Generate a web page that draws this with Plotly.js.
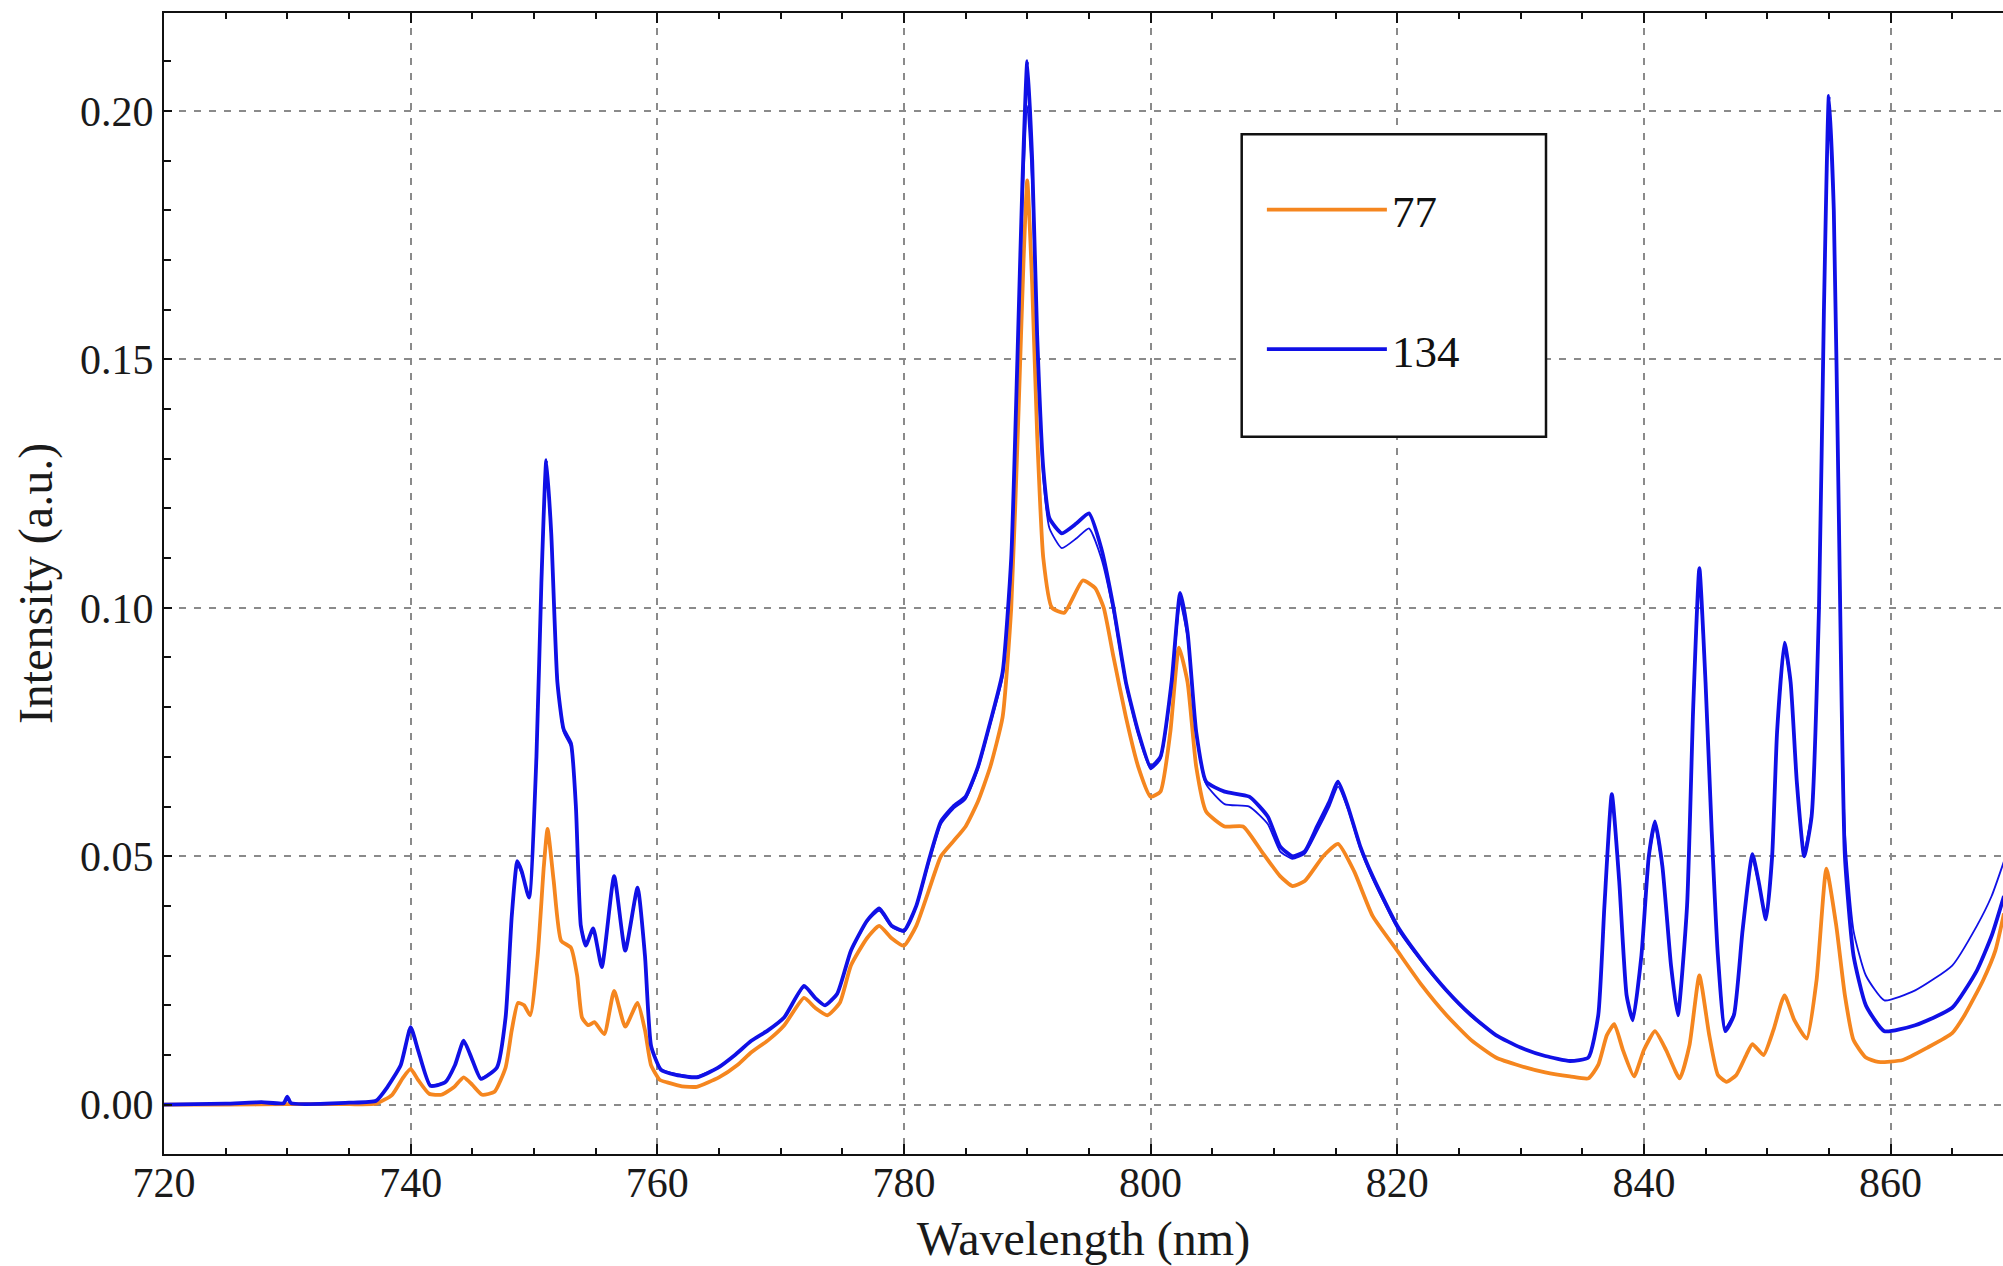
<!DOCTYPE html>
<html>
<head>
<meta charset="utf-8">
<script src="https://cdn.plot.ly/plotly-3.0.1.min.js"></script>
<style>html,body{margin:0;padding:0;background:#fff;}#chart{width:2003px;height:1266px;}</style>
</head>
<body>
<div id="chart"></div>
<script>
// ---- Data ----
const seriesNames = ["77", "134"];

const wl77 = [720,725,730,735,737.2,738.5,739.4,740.0,740.6,741.5,742.5,743.5,744.3,745.0,745.8,746.8,747.7,748.2,748.7,749.2,749.7,750.3,750.8,751.1,751.6,752.2,753.0,753.5,753.9,754.4,754.9,755.7,756.5,757.4,758.4,759.0,759.5,760.2,760.8,762.0,763.2,765.0,766.5,767.6,769.0,770.3,771.9,772.8,773.8,774.8,775.7,777.0,778.0,779.0,780.0,781.0,782.0,783.0,784.0,785.0,786.0,787.0,788.0,788.7,789.3,789.7,790.0,790.4,790.8,791.3,792.0,793.0,794.5,795.5,796.2,797.0,798.0,799.0,800.0,800.8,801.6,802.3,803.0,803.7,804.5,806.0,807.5,809.0,810.5,811.5,812.5,814.0,815.2,816.5,818.0,820.0,822.0,824.0,826.0,828.0,830.0,832.0,834.0,835.5,836.3,837.0,837.6,838.3,839.2,840.0,840.9,841.8,842.9,843.7,844.5,845.3,846.0,846.7,847.5,848.3,848.8,849.7,850.5,851.4,852.2,853.2,854.0,854.8,855.6,856.3,857.0,858.0,859.0,861.0,863.0,865.0,866.0,867.5,868.5,869.2];
const int77 = [0.0000,0.0000,0.0001,0.0001,0.0002,0.0020,0.0055,0.0072,0.0050,0.0022,0.0020,0.0035,0.0055,0.0040,0.0020,0.0026,0.0075,0.0150,0.0205,0.0200,0.0180,0.0300,0.0480,0.0555,0.0450,0.0330,0.0316,0.0260,0.0175,0.0160,0.0166,0.0142,0.0229,0.0157,0.0205,0.0150,0.0079,0.0050,0.0045,0.0037,0.0036,0.0055,0.0080,0.0105,0.0130,0.0160,0.0215,0.0195,0.0180,0.0205,0.0280,0.0335,0.0360,0.0335,0.0320,0.0360,0.0430,0.0500,0.0530,0.0560,0.0610,0.0680,0.0780,0.1000,0.1400,0.1700,0.1860,0.1650,0.1350,0.1100,0.1000,0.0990,0.1055,0.1040,0.1000,0.0900,0.0780,0.0680,0.0620,0.0630,0.0750,0.0920,0.0850,0.0680,0.0590,0.0560,0.0560,0.0510,0.0460,0.0440,0.0450,0.0500,0.0525,0.0470,0.0380,0.0310,0.0240,0.0180,0.0130,0.0095,0.0078,0.0065,0.0057,0.0053,0.0080,0.0140,0.0162,0.0110,0.0057,0.0110,0.0148,0.0110,0.0053,0.0120,0.0260,0.0140,0.0060,0.0046,0.0060,0.0100,0.0122,0.0100,0.0150,0.0220,0.0170,0.0133,0.0250,0.0475,0.0360,0.0220,0.0130,0.0095,0.0086,0.0090,0.0115,0.0144,0.0180,0.0250,0.0310,0.0385];

const wl134 = [720,725,727.9,729.7,730.0,730.3,735,737.2,738.1,739.2,740.0,740.6,741.6,742.8,743.6,744.3,745.0,745.7,747.0,747.7,748.2,748.65,749.0,749.6,750.2,750.6,751.0,751.4,751.9,752.4,753.0,753.4,753.8,754.2,754.8,755.5,756.5,757.4,758.4,759.0,759.5,760.3,761.5,763.2,764.9,766.3,767.6,769.0,770.3,771.9,772.8,773.6,774.6,775.7,777.0,778.0,779.0,780.0,781.0,782.0,783.0,784.0,785.0,786.0,787.0,788.0,788.7,789.2,789.6,790.0,790.4,790.8,791.3,791.8,792.8,794.0,795.0,796.0,797.0,798.0,799.0,800.0,800.8,801.7,802.4,803.0,803.7,804.5,806.0,808.0,809.5,810.5,811.5,812.5,813.5,814.5,815.2,816.0,817.0,818.0,820.0,822.0,824.0,826.0,828.0,830.0,832.0,834.0,835.5,836.3,836.8,837.4,838.0,838.6,839.1,839.8,840.4,840.9,841.5,842.2,842.75,843.5,844.0,844.5,845.0,845.5,846.0,846.6,847.3,848.0,848.8,849.3,849.9,850.4,850.8,851.4,851.9,852.4,853.0,853.6,854.2,854.6,855.0,855.4,855.8,856.3,857.0,858.0,859.5,862.0,865.0,867.0,868.2,869.2];
const int134a = [0.0000,0.0002,0.0005,0.0003,0.0016,0.0003,0.0004,0.0008,0.0035,0.0080,0.0156,0.0110,0.0038,0.0045,0.0080,0.0129,0.0090,0.0052,0.0075,0.0176,0.0380,0.0490,0.0470,0.0417,0.0700,0.1050,0.1297,0.1150,0.0850,0.0756,0.0727,0.0600,0.0360,0.0320,0.0355,0.0277,0.0460,0.0310,0.0437,0.0300,0.0118,0.0070,0.0060,0.0055,0.0074,0.0100,0.0128,0.0150,0.0176,0.0239,0.0215,0.0200,0.0224,0.0310,0.0370,0.0395,0.0360,0.0350,0.0400,0.0490,0.0570,0.0600,0.0620,0.0680,0.0770,0.0870,0.1100,0.1500,0.1850,0.2100,0.1900,0.1550,0.1280,0.1180,0.1150,0.1170,0.1190,0.1120,0.1000,0.0850,0.0750,0.0680,0.0700,0.0850,0.1030,0.0950,0.0750,0.0650,0.0630,0.0620,0.0580,0.0520,0.0500,0.0510,0.0560,0.0610,0.0650,0.0600,0.0520,0.0460,0.0360,0.0290,0.0230,0.0180,0.0140,0.0115,0.0098,0.0088,0.0095,0.0180,0.0400,0.0625,0.0450,0.0220,0.0170,0.0300,0.0500,0.0570,0.0480,0.0280,0.0180,0.0400,0.0800,0.1080,0.0850,0.0550,0.0300,0.0148,0.0180,0.0350,0.0504,0.0450,0.0373,0.0500,0.0750,0.0930,0.0850,0.0650,0.0500,0.0580,0.1000,0.1600,0.2030,0.1800,0.1200,0.0500,0.0300,0.0200,0.0148,0.0160,0.0195,0.0270,0.0340,0.0420];
const int134b = [0.0000,0.0002,0.0005,0.0003,0.0012,0.0003,0.0004,0.0008,0.0035,0.0080,0.0152,0.0108,0.0040,0.0046,0.0080,0.0126,0.0090,0.0054,0.0076,0.0176,0.0375,0.0482,0.0465,0.0420,0.0690,0.1040,0.1280,0.1140,0.0860,0.0750,0.0720,0.0600,0.0365,0.0325,0.0350,0.0280,0.0455,0.0312,0.0430,0.0300,0.0120,0.0072,0.0062,0.0057,0.0075,0.0100,0.0128,0.0150,0.0176,0.0236,0.0215,0.0200,0.0222,0.0308,0.0368,0.0390,0.0358,0.0348,0.0398,0.0485,0.0565,0.0595,0.0615,0.0675,0.0765,0.0860,0.1080,0.1480,0.1800,0.2010,0.1850,0.1520,0.1260,0.1160,0.1120,0.1140,0.1160,0.1100,0.0990,0.0845,0.0745,0.0675,0.0695,0.0840,0.1010,0.0940,0.0745,0.0645,0.0605,0.0600,0.0565,0.0510,0.0495,0.0505,0.0550,0.0600,0.0640,0.0595,0.0515,0.0455,0.0355,0.0287,0.0228,0.0178,0.0140,0.0115,0.0098,0.0088,0.0096,0.0180,0.0395,0.0615,0.0445,0.0222,0.0172,0.0300,0.0495,0.0560,0.0475,0.0280,0.0182,0.0400,0.0790,0.1060,0.0840,0.0550,0.0305,0.0155,0.0185,0.0350,0.0495,0.0445,0.0378,0.0500,0.0745,0.0920,0.0845,0.0650,0.0510,0.0590,0.1000,0.1590,0.2020,0.1800,0.1220,0.0550,0.0350,0.0260,0.0210,0.0230,0.0280,0.0360,0.0420,0.0490];

const xTickVals = [720,740,760,780,800,820,840,860];
const yTickVals = [0.00,0.05,0.10,0.15,0.20];

// ---- Styling ----
const ORANGE = '#f5861f';
const BLUE = '#1010e6';
const FONT = '"Liberation Serif", "Times New Roman", serif';

const traces = [
  {x: wl77, y: int77, name: seriesNames[0], type: 'scatter', mode: 'lines',
   line: {color: ORANGE, width: 3.8, shape: 'spline', smoothing: 0.5}, legendgroup: 'g77'},
  {x: wl134, y: int134b, name: seriesNames[1], type: 'scatter', mode: 'lines',
   line: {color: BLUE, width: 1.8, shape: 'spline', smoothing: 0.5}, legendgroup: 'g134', showlegend: false},
  {x: wl134, y: int134a, name: seriesNames[1], type: 'scatter', mode: 'lines',
   line: {color: BLUE, width: 3.8, shape: 'spline', smoothing: 0.5}, legendgroup: 'g134'}
];

const gridStyle = {showgrid: true, gridcolor: '#8a8a8a', gridwidth: 2, griddash: '7px,8px'};

const layout = {
  width: 2003, height: 1266,
  margin: {l: 164, r: 0, t: 13, b: 112, pad: 0},
  paper_bgcolor: '#ffffff', plot_bgcolor: '#ffffff',
  font: {family: FONT, color: '#1a1a1a', size: 40},
  showlegend: true,
  legend: {
    x: 0.597, y: 0.859, xanchor: 'left', yanchor: 'top',
    bgcolor: 'rgba(0,0,0,0)', borderwidth: 0,
    font: {family: FONT, size: 45, color: '#111'},
    itemwidth: 120, tracegroupgap: 78, traceorder: 'grouped'
  },
  xaxis: Object.assign({
    range: [720, 869.12], tickvals: xTickVals, ticktext: xTickVals.map(String),
    ticks: 'inside', ticklen: 10, tickwidth: 2, tickcolor: '#111',
    showline: true, linecolor: '#111', linewidth: 2, mirror: 'ticks',
    zeroline: false, tickfont: {family: FONT, size: 42, color: '#1a1a1a'},
    ticklabelstandoff: -9,
    minor: {dtick: 5, tick0: 720, ticks: 'inside', ticklen: 6, tickwidth: 2, tickcolor: '#111', showgrid: false},
    title: {text: 'Wavelength (nm)', font: {family: FONT, size: 48, color: '#1a1a1a'}, standoff: 20}
  }, gridStyle),
  yaxis: Object.assign({
    range: [-0.00992, 0.2197], tickvals: yTickVals, tickformat: '.2f',
    ticks: 'inside', ticklen: 8, tickwidth: 2, tickcolor: '#111',
    showline: true, linecolor: '#111', linewidth: 2, mirror: false,
    zeroline: false, tickfont: {family: FONT, size: 42, color: '#1a1a1a'},
    minor: {dtick: 0.01, tick0: 0, ticks: 'inside', ticklen: 7, tickwidth: 2, tickcolor: '#111', showgrid: false},
    title: {text: 'Intensity (a.u.)', font: {family: FONT, size: 48, color: '#1a1a1a'}, standoff: 12}
  }, gridStyle),
  shapes: [
    {type: 'rect', xref: 'paper', yref: 'paper',
     x0: (1241.7 - 164) / 1839, x1: (1546 - 164) / 1839,
     y0: (1154 - 436.7) / 1141, y1: (1154 - 134.3) / 1141,
     line: {color: '#111', width: 2.5}, fillcolor: 'rgba(255,255,255,1)', layer: 'above'}
  ]
};

Plotly.newPlot('chart', traces, layout, {staticPlot: true, displayModeBar: false});
</script>
</body>
</html>
